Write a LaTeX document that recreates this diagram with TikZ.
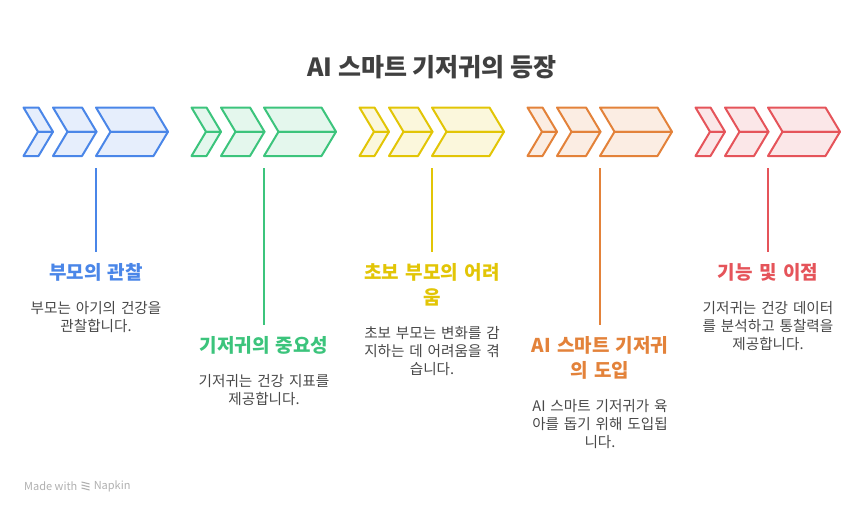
\documentclass[tikz,border=0pt]{standalone}
\usepackage{fontspec}
\setmainfont{Noto Sans CJK KR}
\usetikzlibrary{positioning}
\definecolor{pblue}{HTML}{4A86E8}
\definecolor{pgreen}{HTML}{3CC47C}
\definecolor{pyellow}{HTML}{E2C506}
\definecolor{porange}{HTML}{E3823A}
\definecolor{pred}{HTML}{E5545A}
\definecolor{darktext}{HTML}{404040}
\definecolor{bodytext}{HTML}{484848}
\definecolor{footgray}{HTML}{B0B0B0}
% one chevron, drawn as two halves: start, width, colour
\newcommand{\chev}[3]{%
  \draw[chev=#3] (#1,107.5) -- ++(#2,0) -- ++(14.5,24.25) -- ++(-#2,0) -- cycle;
  \draw[chev=#3] (#1+14.5,131.75) -- ++(#2,0) -- ++(-14.5,24.25) -- ++(-#2,0) -- cycle;}

\begin{document}
\begin{tikzpicture}[x=1pt, y=-1pt,
    chev/.style={draw=#1, fill=#1!14, line width=2pt, line join=round},
    stem/.style={draw=#1, line width=2pt},
    head/.style={text=#1, font=\bfseries\fontsize{19}{25}\selectfont,
                 text width=160pt, align=center, anchor=north, inner xsep=0pt, inner ysep=11.5pt},
    desc/.style={text=bodytext, font=\fontsize{14.6}{18}\selectfont,
                 text width=160pt, align=center, inner sep=0pt},
    maintitle/.style={text=darktext, font=\bfseries\fontsize{25}{30}\selectfont}
  ]
  \useasboundingbox (0,0) rectangle (864,514);

  % Title
  \node[maintitle] (title) at (432,67) {AI 스마트 기저귀의 등장};

  % Chevron groups
  \foreach \c [count=\i from 0] in {pblue,pgreen,pyellow,porange,pred} {
    \pgfmathsetmacro{\xo}{23.5+168*\i}
    \chev{\xo}{15}{\c}
    \chev{\xo+29.5}{29}{\c}
    \chev{\xo+72.5}{57.5}{\c}
    \coordinate (g\i) at (\xo+72.5,168);
  }

  % Stages
  \node[head=pblue]   (t0) at (96,252)  {부모의 관찰};
  \node[head=pgreen]  (t1) at (264,325) {기저귀의 중요성};
  \node[head=pyellow] (t2) at (432,252) {초보 부모의 어려\\움};
  \node[head=porange] (t3) at (600,325) {AI 스마트 기저귀\\의 도입};
  \node[head=pred]    (t4) at (768,252) {기능 및 이점};

  \draw[stem=pblue]   (g0) -- (t0);
  \draw[stem=pgreen]  (g1) -- (t1);
  \draw[stem=pyellow] (g2) -- (t2);
  \draw[stem=porange] (g3) -- (t3);
  \draw[stem=pred]    (g4) -- (t4);

  % Descriptions
  \node[desc, below=8pt of t0] (d0) {부모는 아기의 건강을\\관찰합니다.};
  \node[desc, below=8pt of t1] (d1) {기저귀는 건강 지표를\\제공합니다.};
  \node[desc, below=8pt of t2] (d2) {초보 부모는 변화를 감\\지하는 데 어려움을 겪\\습니다.};
  \node[desc, below=8pt of t3] (d3) {AI 스마트 기저귀가 육\\아를 돕기 위해 도입됩\\니다.};
  \node[desc, below=8pt of t4] (d4) {기저귀는 건강 데이터\\를 분석하고 통찰력을\\제공합니다.};

  % Footer
  \node[text=footgray, font=\fontsize{11}{13}\selectfont, anchor=west, inner sep=0pt] (made) at (24,486) {Made with};
  \coordinate[right=4pt of made] (logo);
  \foreach \k in {0,1,2}
    \draw[footgray, line width=1.1pt] ([shift={(0,-4+3*\k)}]logo) -- ++(8,2);
  \node[text=footgray, font=\fontsize{11}{13}\selectfont, right=16pt of made, inner sep=0pt] (napkin) {Napkin};
\end{tikzpicture}
\end{document}
